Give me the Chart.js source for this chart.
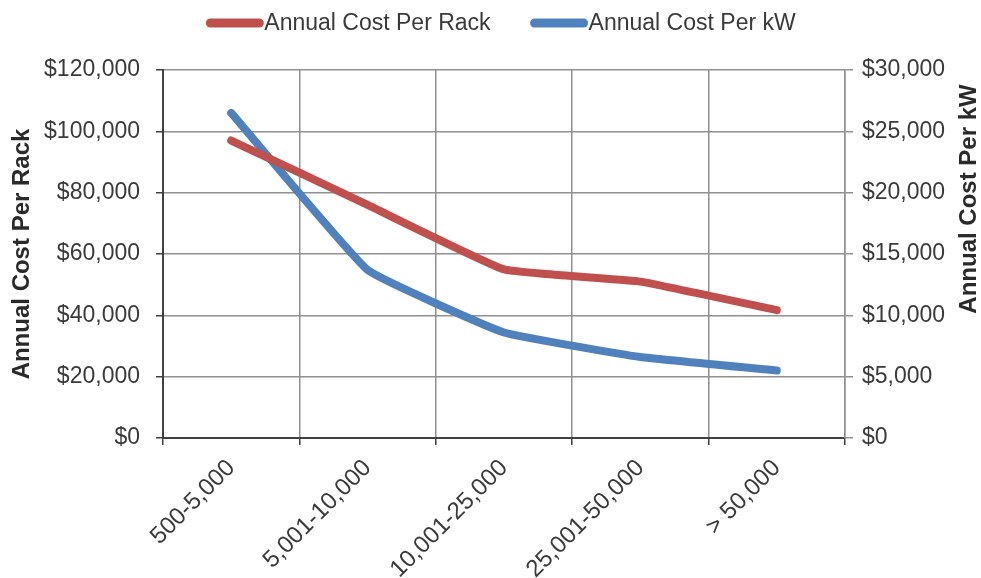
<!DOCTYPE html>
<html>
<head>
<meta charset="utf-8">
<script src="https://cdn.jsdelivr.net/npm/chart.js@4.4.1/dist/chart.umd.min.js"></script>
<style>
  html, body { margin: 0; padding: 0; background: #ffffff; }
  #wrap { width: 981px; height: 578px; }
</style>
</head>
<body>
<div id="wrap"><canvas id="c" width="981" height="578"></canvas></div>
<script>
// Facility size bands (x axis)
const categories = ['500-5,000', '5,001-10,000', '10,001-25,000', '25,001-50,000', '> 50,000'];

// Series values
const costPerRack = [97000, 76000, 55000, 51000, 41700];
const costPerKW   = [26500, 13700, 8600, 6600, 5500];

// Series and axis names
const seriesNames = ['Annual Cost Per Rack', 'Annual Cost Per kW'];
const axisTitles  = ['Annual Cost Per Rack', 'Annual Cost Per kW'];

// Axis ranges
const rackAxis = { min: 0, max: 120000, step: 20000 };
const kwAxis   = { min: 0, max: 30000, step: 5000 };

const RED  = '#C0504D';
const BLUE = '#4F81BD';
const FONT = '"Liberation Sans", Arial, sans-serif';
const TEXT = '#3a3a3a';

const money = v => '$' + Number(v).toLocaleString('en-US');

// Legend and rotated axis titles drawn on the canvas
const decorations = {
  id: 'decorations',
  afterDraw(chart) {
    const ctx = chart.ctx;
    ctx.save();
    ctx.font = '23px ' + FONT;
    const sw = 57, gap = 40, cy = 23;
    const items = chart.data.datasets.map(d => ({
      text: d.label, color: d.borderColor, w: ctx.measureText(d.label).width
    }));
    const total = items.reduce((s, it) => s + sw + 1 + it.w, 0) + gap * (items.length - 1);
    let x = 501 - total / 2;
    items.forEach(it => {
      ctx.strokeStyle = it.color;
      ctx.lineWidth = 9;
      ctx.lineCap = 'round';
      ctx.beginPath();
      ctx.moveTo(x + 4, cy);
      ctx.lineTo(x + sw - 4, cy);
      ctx.stroke();
      ctx.fillStyle = TEXT;
      ctx.textAlign = 'left';
      ctx.textBaseline = 'middle';
      ctx.fillText(it.text, x + sw + 1, cy + 1);
      x += sw + 1 + it.w + gap;
    });

    ctx.font = 'bold 24px ' + FONT;
    ctx.fillStyle = '#2a2a2a';
    ctx.textAlign = 'center';
    ctx.textBaseline = 'middle';
    [[22, 254, axisTitles[0]], [969, 199, axisTitles[1]]].forEach(([tx, ty, t]) => {
      ctx.save();
      ctx.translate(tx, ty);
      ctx.rotate(-Math.PI / 2);
      ctx.fillText(t, 0, 0);
      ctx.restore();
    });
    ctx.restore();
  }
};

new Chart(document.getElementById('c'), {
  type: 'line',
  data: {
    labels: categories,
    datasets: [
      {
        label: seriesNames[0],
        data: costPerRack,
        yAxisID: 'yRack',
        borderColor: RED,
        backgroundColor: RED,
        borderWidth: 8,
        borderCapStyle: 'round',
        borderJoinStyle: 'round',
        pointRadius: 0,
        tension: 0.1
      },
      {
        label: seriesNames[1],
        data: costPerKW,
        yAxisID: 'yKW',
        borderColor: BLUE,
        backgroundColor: BLUE,
        borderWidth: 8,
        borderCapStyle: 'round',
        borderJoinStyle: 'round',
        pointRadius: 0,
        tension: 0.1
      }
    ]
  },
  options: {
    responsive: false,
    animation: false,
    layout: { padding: { top: 70, left: 0, right: 0, bottom: 0 } },
    plugins: {
      legend: { display: false },
      tooltip: { enabled: false }
    },
    scales: {
      x: {
        offset: true,
        afterFit: s => { s.height = 140; },
        grid: {
          offset: true,
          color: '#909090',
          lineWidth: 1.5,
          tickColor: '#404040',
          tickLength: 7
        },
        border: { color: '#404040', width: 2 },
        ticks: {
          minRotation: 45,
          maxRotation: 45,
          padding: 9,
          color: TEXT,
          font: { family: FONT, size: 24 }
        }
      },
      yRack: {
        position: 'left',
        min: rackAxis.min,
        max: rackAxis.max,
        afterFit: s => { s.width = 163; },
        grid: {
          color: '#909090',
          lineWidth: 1.5,
          tickColor: '#404040',
          tickLength: 7
        },
        border: { color: '#404040', width: 2 },
        ticks: {
          stepSize: rackAxis.step,
          padding: 16,
          color: TEXT,
          font: { family: FONT, size: 23 },
          callback: v => money(v)
        }
      },
      yKW: {
        position: 'right',
        min: kwAxis.min,
        max: kwAxis.max,
        afterFit: s => { s.width = 136; },
        grid: {
          drawOnChartArea: false,
          tickColor: '#909090',
          tickLength: 8,
          lineWidth: 1.5
        },
        border: { color: '#909090', width: 1.5 },
        ticks: {
          stepSize: kwAxis.step,
          padding: 9,
          color: TEXT,
          font: { family: FONT, size: 23 },
          callback: v => money(v)
        }
      }
    }
  },
  plugins: [decorations]
});
</script>
</body>
</html>
